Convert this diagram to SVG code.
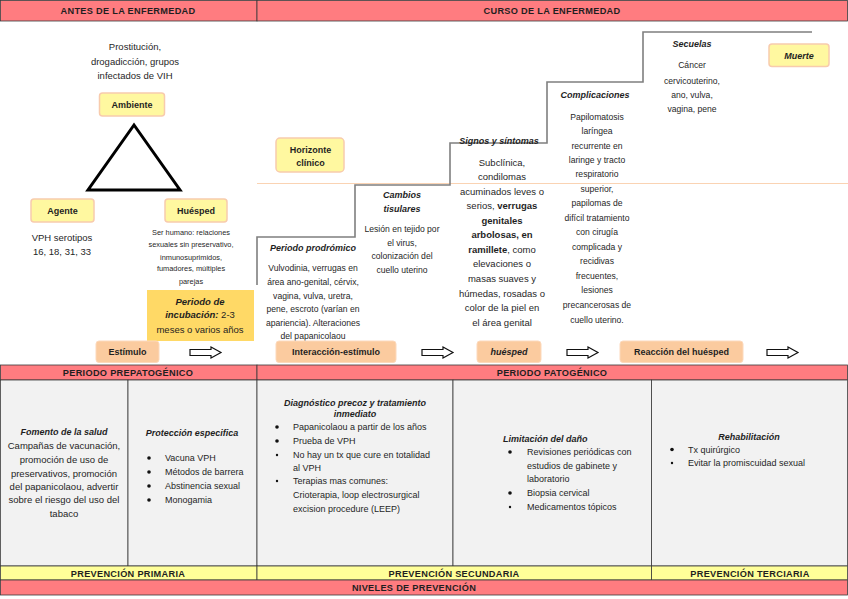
<svg xmlns="http://www.w3.org/2000/svg" width="848" height="599" viewBox="0 0 848 599">
<style>
text{font-family:"Liberation Sans",Arial,sans-serif;fill:#1f1f1f}
.hdr{font-size:9.2px;font-weight:bold;text-anchor:middle;letter-spacing:0.3px}
.lbl{font-size:9px;font-weight:bold;text-anchor:middle}
.lbli{font-size:9px;font-weight:bold;font-style:italic;text-anchor:middle}
.t{font-size:9.5px;text-anchor:middle}
.ts{font-size:8.6px;text-anchor:middle}
.tx{font-size:7.4px;text-anchor:middle}
.b{font-size:9px}
.bi{font-weight:bold;font-style:italic}
.bo{font-weight:bold}
.red{fill:#FF7C80;stroke:#3a3a3a;stroke-width:0.8}
.yel{fill:#FFFF99;stroke:#3a3a3a;stroke-width:0.8}
.cell{fill:#F2F2F2;stroke:#3a3a3a;stroke-width:0.8}
.yb{fill:#FFF8A0;stroke:#F8CBAD;stroke-width:1.5}
.pb{fill:#FBCB9F;stroke:#FCD9BC;stroke-width:1}
.arr{fill:#fff;stroke:#111;stroke-width:1.2}
</style>
<defs>
<path id="blk" d="M0,2.5 H21 V0 L31,5.5 L21,11 V8.5 H0 Z"/>
</defs>
<rect width="848" height="599" fill="#fff"/>

<g id="headers-top">
<rect class="red" x="0.5" y="0.5" width="256.5" height="20.5"/>
<rect class="red" x="257" y="0.5" width="590.5" height="20.5"/>
<text class="hdr" x="128" y="14">ANTES DE LA ENFERMEDAD</text>
<text class="hdr" x="552" y="14">CURSO DE LA ENFERMEDAD</text>
</g>

<g id="horizon-line">
<line x1="257" y1="183.5" x2="848" y2="183.5" stroke="#FAD3B3" stroke-width="1.2"/>
</g>
<g id="staircase">
<path d="M257,285 V237 H355 V185 H450 V143 H547 V82 H643 V32 H812" fill="none" stroke="#7f7f7f" stroke-width="1.6"/>
</g>

<g id="prostitucion-text">
<text class="t" x="135" y="50">Prostitución,</text>
<text class="t" x="135" y="65">drogadicción, grupos</text>
<text class="t" x="135" y="79">infectados de VIH</text>
</g>
<g id="ambiente">
<rect class="yb" x="99.5" y="93" width="65" height="23" rx="3"/>
<text class="lbl" x="132" y="108">Ambiente</text>
</g>
<g id="triangle">
<polygon points="134,125 88,190 180,190" fill="#fff" stroke="#000" stroke-width="3" stroke-linejoin="miter"/>
</g>
<g id="agente">
<rect class="yb" x="31" y="199" width="63" height="23" rx="3"/>
<text class="lbl" x="62.5" y="214">Agente</text>
</g>
<g id="agente-text">
<text class="t" x="62" y="241">VPH serotipos</text>
<text class="t" x="62" y="255">16, 18, 31, 33</text>
</g>
<g id="huesped">
<rect class="yb" x="165" y="199" width="62" height="23" rx="3"/>
<text class="lbl" x="196" y="214">Huésped</text>
</g>
<g id="huesped-text">
<text class="tx" x="191" y="234.5">Ser humano: relaciones</text>
<text class="tx" x="191" y="247">sexuales sin preservativo,</text>
<text class="tx" x="191" y="259.5">inmunosuprimidos,</text>
<text class="tx" x="191" y="271">fumadores, múltiples</text>
<text class="tx" x="191" y="283.5">parejas</text>
</g>
<g id="incubacion">
<rect x="147" y="290" width="107" height="51" fill="#FFD966"/>
<text class="t" x="200" y="304.5"><tspan class="bi">Periodo de</tspan></text>
<text class="t" x="200" y="318"><tspan class="bi">incubación:</tspan> 2-3</text>
<text class="t" x="200" y="332.5">meses o varios años</text>
</g>
<g id="estimulo">
<rect class="pb" x="96" y="341" width="63" height="21.5" rx="3"/>
<text class="lbl" x="127.5" y="355">Estímulo</text>
</g>

<g id="horizonte">
<rect class="yb" x="276" y="138" width="68" height="34" rx="4"/>
<text class="lbl" x="310.5" y="153">Horizonte</text>
<text class="lbl" x="310.5" y="165.5">clínico</text>
</g>
<g id="prodromico">
<text class="lbli" x="313" y="251">Periodo prodrómico</text>
<text class="ts" x="313" y="271">Vulvodinia, verrugas en</text>
<text class="ts" x="313" y="285">área ano-genital, cérvix,</text>
<text class="ts" x="313" y="298.5">vagina, vulva, uretra,</text>
<text class="ts" x="313" y="312">pene, escroto (varían en</text>
<text class="ts" x="313" y="325.5">apariencia). Alteraciones</text>
<text class="ts" x="313" y="339">del papanicolaou</text>
</g>
<g id="cambios">
<text class="lbli" x="402" y="198">Cambios</text>
<text class="lbli" x="402" y="212">tisulares</text>
<text class="ts" x="402" y="232">Lesión en tejido por</text>
<text class="ts" x="402" y="246">el virus,</text>
<text class="ts" x="402" y="259">colonización del</text>
<text class="ts" x="402" y="273">cuello uterino</text>
</g>
<g id="interaccion">
<rect class="pb" x="276" y="341" width="120" height="21.5" rx="3"/>
<text class="lbl" x="336" y="355">Interacción-estímulo</text>
</g>
<g id="signos">
<text class="lbli" x="499" y="144">Signos y síntomas</text>
<text class="t" x="502" y="166">Subclínica,</text>
<text class="t" x="502" y="180">condilomas</text>
<text class="t" x="502" y="195">acuminados leves o</text>
<text class="t" x="502" y="209">serios, <tspan class="bo">verrugas</tspan></text>
<text class="t" x="502" y="223.5"><tspan class="bo">genitales</tspan></text>
<text class="t" x="502" y="238"><tspan class="bo">arbolosas, en</tspan></text>
<text class="t" x="502" y="252.5"><tspan class="bo">ramillete</tspan>,  como</text>
<text class="t" x="502" y="267">elevaciones o</text>
<text class="t" x="502" y="282">masas suaves y</text>
<text class="t" x="502" y="297">húmedas, rosadas o</text>
<text class="t" x="502" y="311">color de la piel en</text>
<text class="t" x="502" y="326">el área genital</text>
</g>
<g id="huesped2">
<rect class="pb" x="477" y="341" width="64" height="21.5" rx="3"/>
<text class="lbli" x="509" y="355">huésped</text>
</g>
<g id="complicaciones">
<text class="lbli" x="595" y="98">Complicaciones</text>
<text class="ts" x="597" y="120">Papilomatosis</text>
<text class="ts" x="597" y="134">laríngea</text>
<text class="ts" x="597" y="148.5">recurrente en</text>
<text class="ts" x="597" y="163">laringe y tracto</text>
<text class="ts" x="597" y="177">respiratorio</text>
<text class="ts" x="597" y="192">superior,</text>
<text class="ts" x="597" y="206">papilomas de</text>
<text class="ts" x="597" y="221">difícil tratamiento</text>
<text class="ts" x="597" y="235">con cirugía</text>
<text class="ts" x="597" y="250">complicada y</text>
<text class="ts" x="597" y="264">recidivas</text>
<text class="ts" x="597" y="279">frecuentes,</text>
<text class="ts" x="597" y="293">lesiones</text>
<text class="ts" x="597" y="308">precancerosas de</text>
<text class="ts" x="597" y="322.5">cuello uterino.</text>
</g>
<g id="reaccion">
<rect class="pb" x="620" y="341" width="123" height="21.5" rx="3"/>
<text class="lbl" x="681.5" y="355">Reacción del huésped</text>
</g>
<g id="secuelas">
<text class="lbli" x="692" y="46.5">Secuelas</text>
<text class="ts" x="692" y="68">Cáncer</text>
<text class="ts" x="692" y="84">cervicouterino,</text>
<text class="ts" x="692" y="98">ano, vulva,</text>
<text class="ts" x="692" y="111.5">vagina, pene</text>
</g>
<g id="muerte">
<rect class="yb" x="769" y="44" width="60" height="22.5" rx="3"/>
<text class="lbli" x="799" y="58.5">Muerte</text>
</g>

<g id="connectors">
<use href="#blk" class="arr" x="190" y="347"/>
<use href="#blk" class="arr" x="422" y="347"/>
<use href="#blk" class="arr" x="567" y="347"/>
<use href="#blk" class="arr" x="767" y="347"/>
</g>

<g id="bottom-headers">
<rect class="red" x="0.5" y="365" width="256.5" height="15"/>
<rect class="red" x="257" y="365" width="590.5" height="15"/>
<text class="hdr" x="128" y="376">PERIODO PREPATOGÉNICO</text>
<text class="hdr" x="552" y="376">PERIODO PATOGÉNICO</text>
</g>

<g id="fomento">
<rect class="cell" x="0.5" y="380" width="127.5" height="186"/>
<text class="lbli" x="64" y="435">Fomento de la salud</text>
<text class="t" x="64" y="449">Campañas de vacunación,</text>
<text class="t" x="64" y="462.5">promoción de uso de</text>
<text class="t" x="64" y="476.5">preservativos, promoción</text>
<text class="t" x="64" y="490">del papanicolaou, advertir</text>
<text class="t" x="64" y="503">sobre el riesgo del uso del</text>
<text class="t" x="64" y="517">tabaco</text>
</g>
<g id="proteccion">
<rect class="cell" x="128" y="380" width="129" height="186"/>
<text class="lbli" x="192" y="436">Protección especifica</text>
<g fill="#111"><circle cx="149" cy="458" r="1.8"/><circle cx="149" cy="472" r="1.8"/><circle cx="149" cy="486" r="1.8"/><circle cx="149" cy="500" r="1.8"/></g>
<text class="b" x="165" y="461">Vacuna VPH</text>
<text class="b" x="165" y="475">Métodos de barrera</text>
<text class="b" x="165" y="489">Abstinencia sexual</text>
<text class="b" x="165" y="503">Monogamia</text>
</g>
<g id="diagnostico">
<rect class="cell" x="257" y="380" width="196" height="186"/>
<text class="lbli" x="355" y="406">Diagnóstico precoz y tratamiento</text>
<text class="lbli" x="355" y="417">inmediato</text>
<g fill="#111"><circle cx="277" cy="427" r="1.8"/><circle cx="277" cy="441" r="1.8"/><circle cx="277" cy="455" r="1.2"/><circle cx="277" cy="481" r="1.2"/></g>
<text class="b" x="293" y="430">Papanicolaou a partir de los años</text>
<text class="b" x="293" y="444">Prueba de VPH</text>
<text class="b" x="293" y="457.5">No hay un tx que cure en totalidad</text>
<text class="b" x="293" y="470.5">al VPH</text>
<text class="b" x="293" y="484">Terapias mas comunes:</text>
<text class="b" x="293" y="498">Crioterapia, loop electrosurgical</text>
<text class="b" x="293" y="511.5">excision procedure (LEEP)</text>
</g>
<g id="limitacion">
<rect class="cell" x="453" y="380" width="198.5" height="186"/>
<text class="lbli" x="503" y="442" style="text-anchor:start">Limitación del daño</text>
<g fill="#111"><circle cx="510" cy="452" r="1.8"/><circle cx="510" cy="493" r="1.8"/><circle cx="510" cy="507" r="1.2"/></g>
<text class="b" x="527" y="455">Revisiones periódicas con</text>
<text class="b" x="527" y="469">estudios de gabinete y</text>
<text class="b" x="527" y="482">laboratorio</text>
<text class="b" x="527" y="496">Biopsia cervical</text>
<text class="b" x="527" y="510">Medicamentos tópicos</text>
</g>
<g id="rehabilitacion">
<rect class="cell" x="651.5" y="380" width="196" height="186"/>
<text class="lbli" x="749" y="440">Rehabilitación</text>
<g fill="#111"><circle cx="672" cy="449.5" r="1.8"/><circle cx="672" cy="463" r="1.2"/></g>
<text class="b" x="688" y="453">Tx quirúrgico</text>
<text class="b" x="688" y="466">Evitar la promiscuidad sexual</text>
</g>

<g id="prevencion">
<rect class="yel" x="0.5" y="566" width="256.5" height="14"/>
<rect class="yel" x="257" y="566" width="394.5" height="14"/>
<rect class="yel" x="651.5" y="566" width="196" height="14"/>
<text class="hdr" x="128" y="576.8">PREVENCIÓN PRIMARIA</text>
<text class="hdr" x="454" y="576.8">PREVENCIÓN SECUNDARIA</text>
<text class="hdr" x="750" y="576.8">PREVENCIÓN TERCIARIA</text>
<rect class="red" x="0.5" y="580" width="847" height="15"/>
<text class="hdr" x="414" y="591.3">NIVELES DE PREVENCIÓN</text>
</g>
</svg>
